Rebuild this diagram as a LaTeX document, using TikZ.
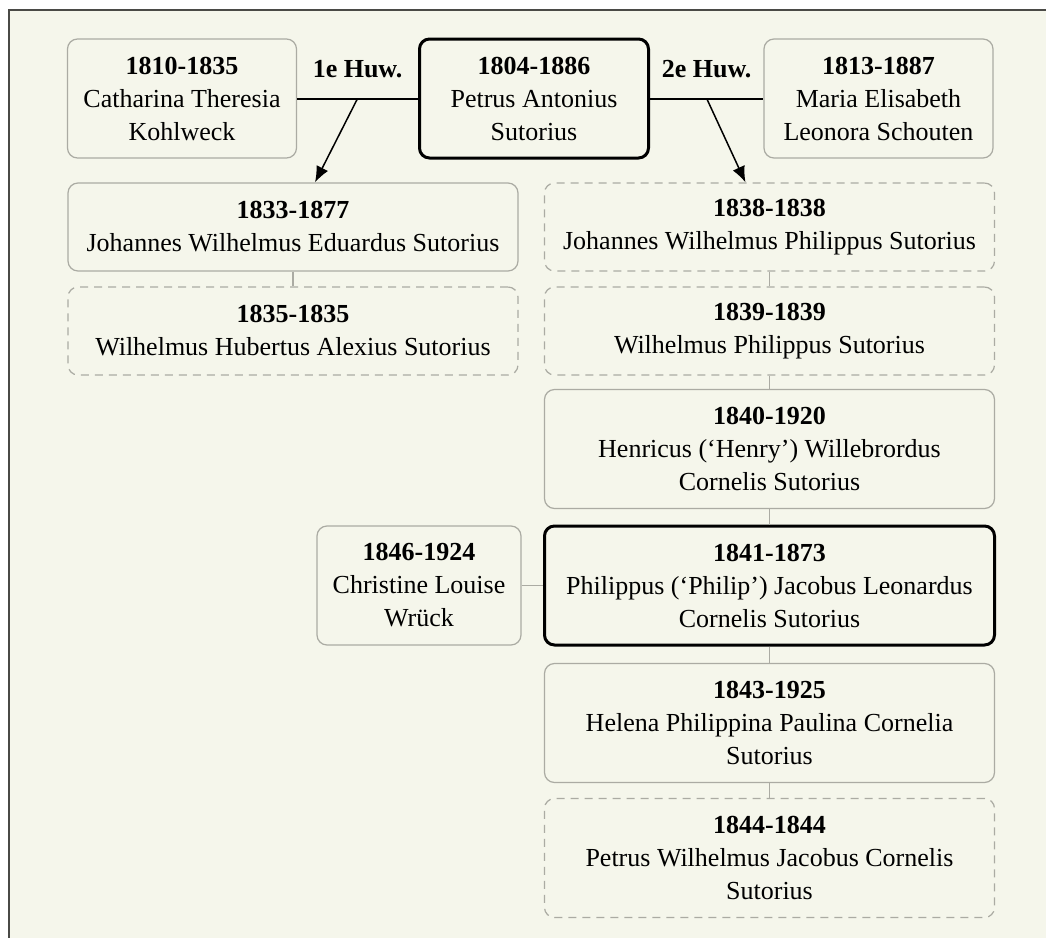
\documentclass[tikz,border=0pt]{standalone}
\usepackage{fontspec}
\setmainfont{Liberation Serif}
\usepackage{tikz}
\usetikzlibrary{arrows.meta}
\definecolor{paper}{HTML}{F5F6EB}
\definecolor{boxgray}{HTML}{ABABA3}
\definecolor{framegray}{HTML}{4A4A46}

\begin{document}
\begin{tikzpicture}[x=0.5pt, y=-0.5pt,
  every node/.style={font=\fontsize{13}{16.5}\selectfont, align=center},
  person/.style={draw=boxgray, line width=0.6pt, rounded corners=5pt, fill=paper},
  died/.style={person, dash pattern=on 4pt off 3pt},
  main/.style={person, draw=black, line width=1.5pt},
  toprow/.style={minimum width=114.5pt, minimum height=59.5pt},
  wide/.style={minimum width=225pt},
  short/.style={minimum height=44pt},
  tall/.style={minimum height=59.5pt},
  wed/.style={black, line width=1pt},
  child/.style={black, line width=0.75pt, -{Latex[length=8pt, width=6.5pt]}},
  sib/.style={boxgray, line width=0.6pt},
  huwlbl/.style={font=\fontsize{13}{16.5}\selectfont\bfseries}]
\useasboundingbox (0,0) rectangle (1046,938);
\fill[white] (0,0) rectangle (1046,938);
\fill[paper] (9,10) rectangle (1046,938);
\draw[framegray, line width=1pt] (9,938) -- (9,10) -- (1046,10);
% ouders
\node[person, toprow] (cath) at (182,98.5) {\textbf{1810-1835}\\Catharina Theresia\\Kohlweck};
\node[main, toprow] (petrus) at (534,98.5) {\textbf{1804-1886}\\Petrus Antonius\\Sutorius};
\node[person, toprow] (maria) at (878.5,98.5) {\textbf{1813-1887}\\Maria Elisabeth\\Leonora Schouten};
\draw[wed] (cath) -- coordinate (huw1) (petrus);
\draw[wed] (petrus) -- coordinate (huw2) (maria);
\node[huwlbl] (lbl1) at ([yshift=14.5pt]huw1) {1e Huw.};
\node[huwlbl] (lbl2) at ([yshift=14.5pt]huw2) {2e Huw.};
% kinderen 1e huwelijk
\node[person, wide, short] (jwe) at (293,227) {\textbf{1833-1877}\\Johannes Wilhelmus Eduardus Sutorius};
\node[died, wide, short] (wha) at (293,331) {\textbf{1835-1835}\\Wilhelmus Hubertus Alexius Sutorius};
% kinderen 2e huwelijk
\node[died, wide, short] (jwp) at (769.5,227) {\textbf{1838-1838}\\Johannes Wilhelmus Philippus Sutorius};
\node[died, wide, short] (wp) at (769.5,331) {\textbf{1839-1839}\\Wilhelmus Philippus Sutorius};
\node[person, wide, tall] (henry) at (769.5,449) {\textbf{1840-1920}\\Henricus (‘Henry’) Willebrordus\\Cornelis Sutorius};
\node[main, wide, tall] (philip) at (769.5,585.5) {\textbf{1841-1873}\\Philippus (‘Philip’) Jacobus Leonardus\\Cornelis Sutorius};
\node[person, tall, minimum width=102pt] (christine) at (419,585.5) {\textbf{1846-1924}\\Christine Louise\\Wrück};
\node[person, wide, tall] (helena) at (769.5,723) {\textbf{1843-1925}\\Helena Philippina Paulina Cornelia\\Sutorius};
\node[died, wide, tall] (pwjc) at (769.5,858) {\textbf{1844-1844}\\Petrus Wilhelmus Jacobus Cornelis\\Sutorius};
\draw[child] (huw1) -- ([xshift=11pt]jwe.north);
\draw[child] (huw2) -- ([xshift=-12pt]jwp.north);
\draw[sib] (jwe) -- (wha);
\foreach \a/\b in {jwp/wp, wp/henry, henry/philip, philip/helena, helena/pwjc}
  \draw[sib] (\a) -- (\b);
\draw[sib] (christine) -- (philip);
\end{tikzpicture}
\end{document}
